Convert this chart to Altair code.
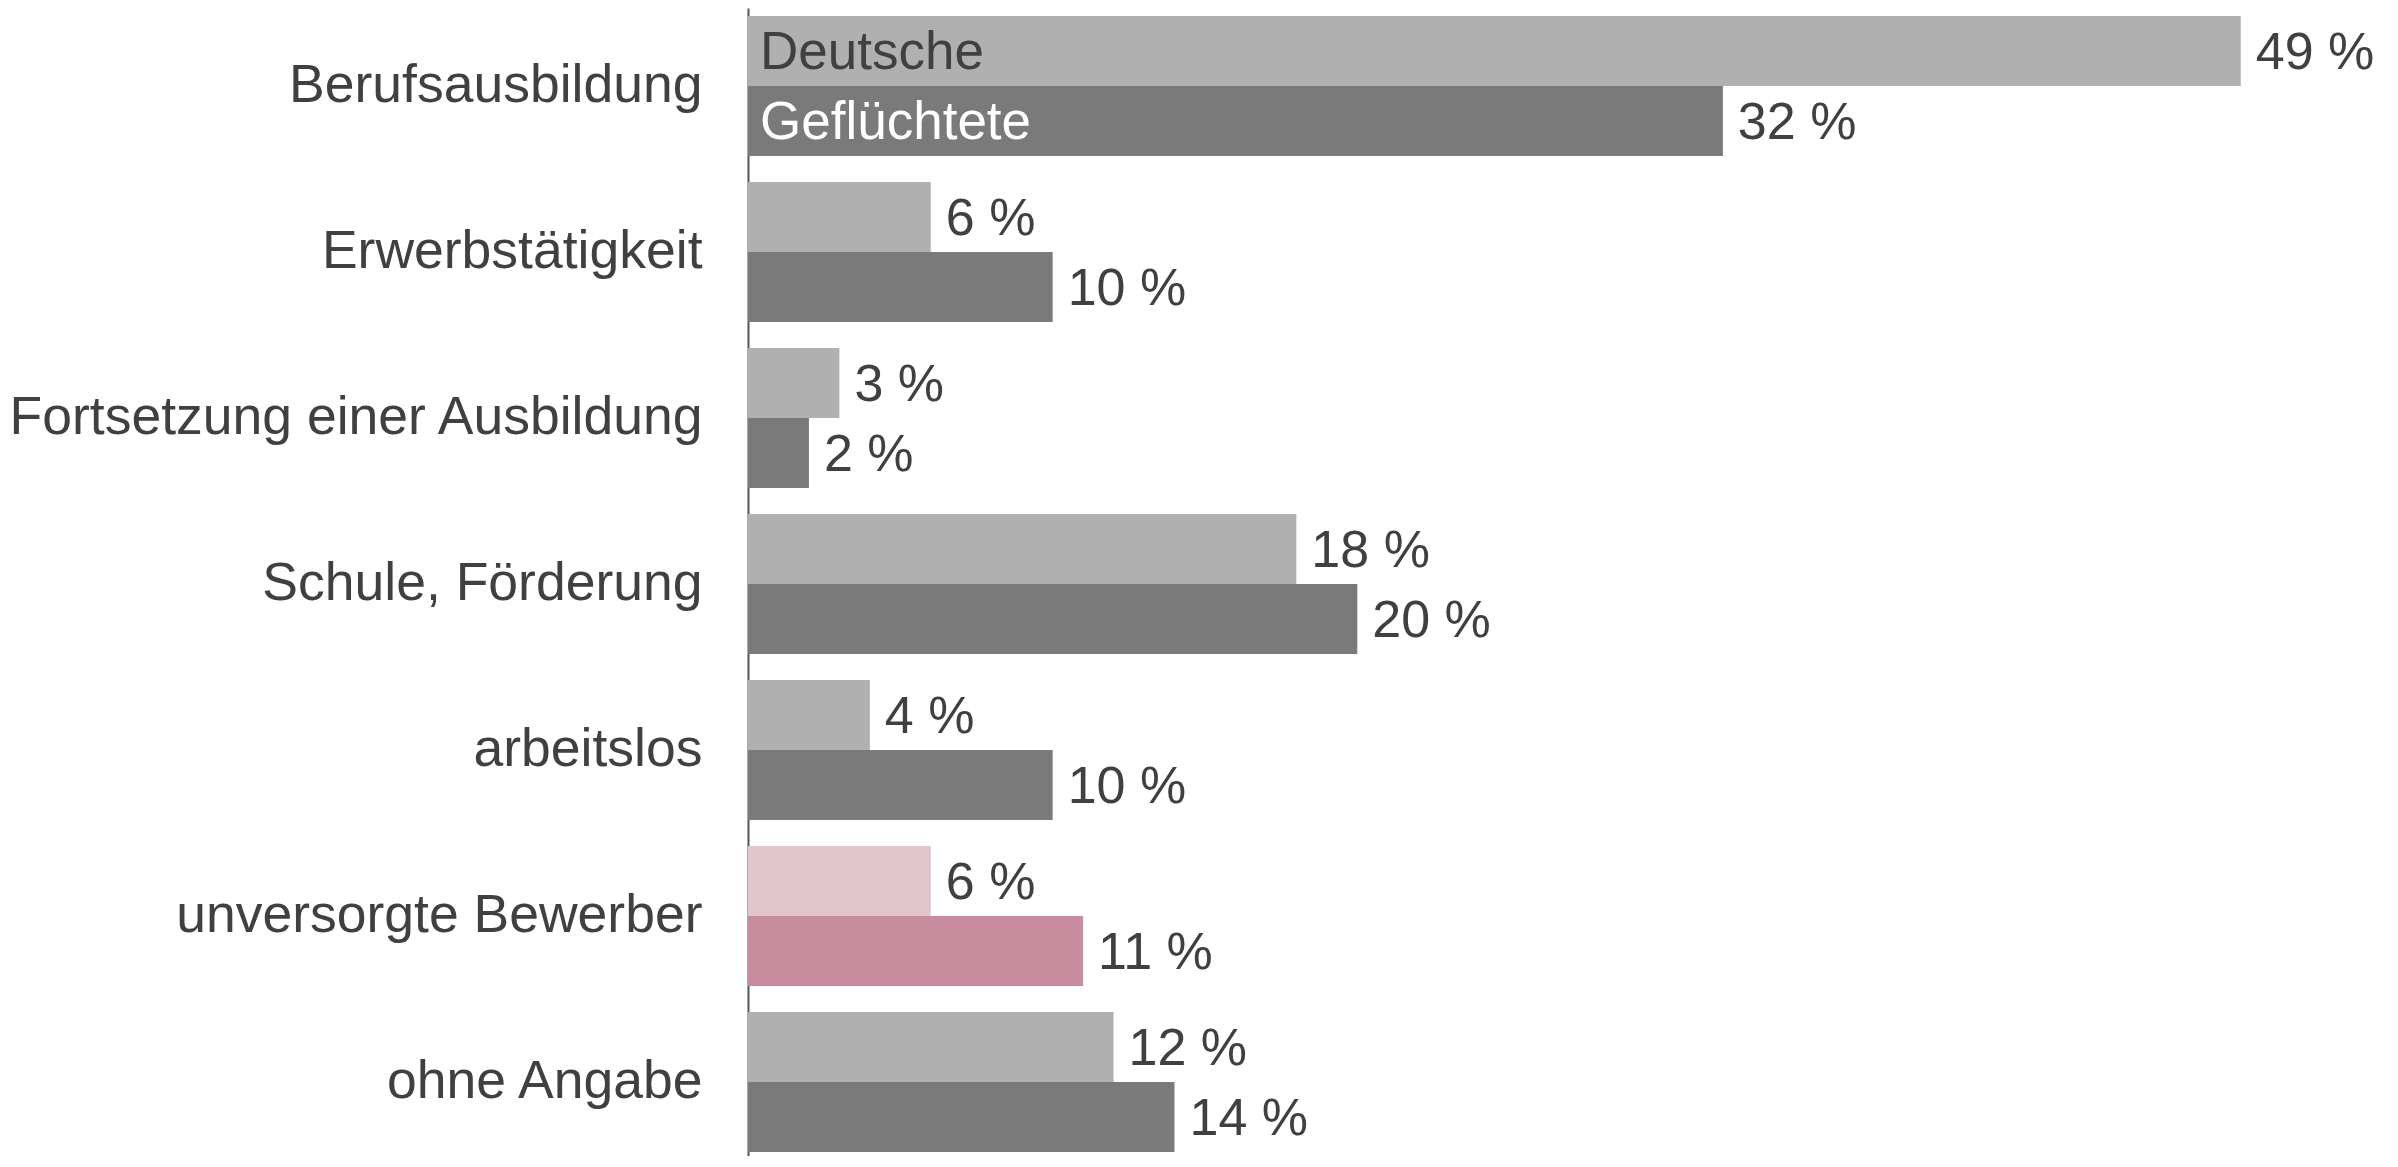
import altair as alt
import pandas as pd

kategorien = [
    "Berufsausbildung",
    "Erwerbstätigkeit",
    "Fortsetzung einer Ausbildung",
    "Schule, Förderung",
    "arbeitslos",
    "unversorgte Bewerber",
    "ohne Angabe",
]
serien = ["Deutsche", "Geflüchtete"]
deutsche = [49, 6, 3, 18, 4, 6, 12]
gefluechtete = [32, 10, 2, 20, 10, 11, 14]
hervorgehoben = "unversorgte Bewerber"

rows = []
for k, d, g in zip(kategorien, deutsche, gefluechtete):
    for s, v in zip(serien, [d, g]):
        key = ("hl-" if k == hervorgehoben else "") + s
        rows.append({"kategorie": k, "serie": s, "wert": v, "label": f"{v} %", "farbe": key})
df = pd.DataFrame(rows)

FONT = "Liberation Sans"
TXT = "#404040"

y_enc = alt.Y(
    "kategorie:N",
    sort=kategorien,
    scale=alt.Scale(paddingInner=0.1566, paddingOuter=0.0361, align=0.667),
    axis=alt.Axis(
        title=None,
        ticks=False,
        grid=False,
        labelPadding=46,
        labelFontSize=53.5,
        labelFont=FONT,
        labelColor=TXT,
        labelLimit=1000,
        domainColor="#555555",
        domainWidth=2,
    ),
)
yoff = alt.YOffset("serie:N", sort=serien, scale=alt.Scale(paddingInner=0, paddingOuter=0))
x_enc = alt.X("wert:Q", scale=alt.Scale(domain=[0, 53.8], nice=False, zero=True), axis=None)
x_zero = alt.XDatum(0, axis=None)

base = alt.Chart(df)

bars = base.mark_bar(clip=False).encode(
    x=x_enc,
    y=y_enc,
    yOffset=yoff,
    color=alt.Color(
        "farbe:N",
        scale=alt.Scale(
            domain=["Deutsche", "Geflüchtete", "hl-Deutsche", "hl-Geflüchtete"],
            range=["#b0b0b0", "#7a7a7a", "#e2c4cc", "#c98c9e"],
        ),
        legend=None,
    ),
)

values = base.mark_text(
    align="left", baseline="middle", dx=15, dy=2, fontSize=52, font=FONT, color=TXT, clip=False
).encode(x=x_enc, y=y_enc, yOffset=yoff, text="label:N")

first = kategorien[0]
lab_d = base.transform_filter(
    (alt.datum.kategorie == first) & (alt.datum.serie == serien[0])
).mark_text(align="left", baseline="middle", dx=12, dy=2, fontSize=53, font=FONT, color=TXT).encode(
    x=x_zero, y=y_enc, yOffset=yoff, text="serie:N"
)
lab_g = base.transform_filter(
    (alt.datum.kategorie == first) & (alt.datum.serie == serien[1])
).mark_text(align="left", baseline="middle", dx=12, dy=2, fontSize=53, font=FONT, color="#ffffff").encode(
    x=x_zero, y=y_enc, yOffset=yoff, text="serie:N"
)

chart = (
    alt.layer(bars, values, lab_d, lab_g)
    .properties(
        width=1639,
        height=1148,
        autosize=alt.AutoSizeParams(type="none"),
        padding={"left": 740, "top": 0, "right": 0, "bottom": 0},
        background="#ffffff",
    )
    .configure_view(stroke=None, strokeWidth=0)
    .configure_axisX(domain=False, grid=False, labels=False, ticks=False)
)

chart.save("out.html", embed_options={"renderer": "svg", "actions": False})
